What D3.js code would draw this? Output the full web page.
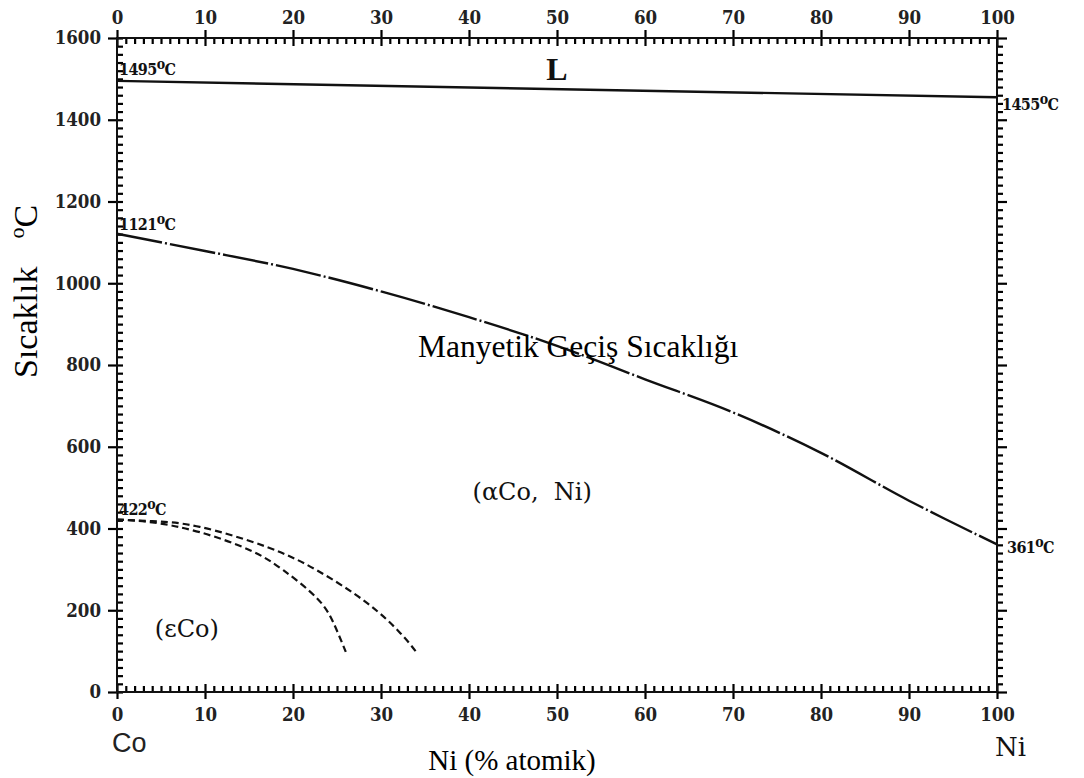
<!DOCTYPE html>
<html>
<head>
<meta charset="utf-8">
<script src="https://cdn.jsdelivr.net/npm/d3@7"></script>
<style>
  html, body { margin: 0; padding: 0; background: #fff; }
  svg { display: block; }
  .tickLbl { font-family: "DejaVu Serif Condensed", "DejaVu Serif", serif; font-stretch: condensed; font-weight: bold; font-size: 18.5px; fill: #222; }
  .tempLbl { font-family: "DejaVu Serif Condensed", "DejaVu Serif", serif; font-stretch: condensed; font-weight: bold; font-size: 16px; letter-spacing: -0.6px; fill: #111; }
  .times { font-family: "Liberation Serif", "Times New Roman", serif; fill: #000; }
  .phase { font-family: "DejaVu Serif", serif; fill: #111; white-space: pre; }
</style>
</head>
<body>
<div id="chart"></div>
<script>
// axis ticks
const niTicks = [0, 10, 20, 30, 40, 50, 60, 70, 80, 90, 100];
const tempTicks = [0, 200, 400, 600, 800, 1000, 1200, 1400, 1600];

// liquidus (L)
const liqNi = [0, 100];
const liqT = [1495, 1455];

// magnetic transition (Manyetik Geçiş Sıcaklığı)
const magNi = [0, 10, 20, 30, 40, 50, 60, 70, 80, 90, 100];
const magT = [1121, 1079, 1035, 980, 917, 847, 765, 684, 585, 468, 361];

// epsilon Co boundaries (dashed)
const epsInNi = [0, 4, 9.4, 15.1, 18.9, 22.7, 24.6, 26];
const epsInT = [422, 415, 391, 347, 298, 230, 169, 98];
const epsOutNi = [0, 4, 9.4, 17, 22.7, 28.4, 32.2, 34];
const epsOutT = [422, 418, 404, 355, 298, 218, 144, 98];

const W = 1084, H = 778;
const m = {left: 117, right: 87, top: 38, bottom: 86};
const w = W - m.left - m.right, h = H - m.top - m.bottom;

const svg = d3.select("#chart").append("svg")
  .attr("width", W).attr("height", H);

const g = svg.append("g").attr("transform", `translate(${m.left},${m.top})`);

const x = d3.scaleLinear().domain([0, 100]).range([0, w]);
const y = d3.scaleLinear().domain([0, 1600]).range([h, 0]);

const minorX = d3.range(0, 101, 1).filter(v => v % 10);
const minorY = d3.range(0, 1601, 20).filter(v => v % 200);
const fmt = d3.format("d");

const styleAxis = (sel) => {
  sel.select(".domain").remove();
  sel.selectAll(".tick line").attr("stroke", "#000").attr("stroke-width", 2.2);
  sel.selectAll(".tick text").attr("class", "tickLbl");
};

// tick labels + major ticks (outside part)
g.append("g").attr("transform", `translate(0,${h})`)
  .call(d3.axisBottom(x).tickValues(niTicks).tickSize(7).tickPadding(9).tickFormat(fmt)).call(styleAxis);
g.append("g")
  .call(d3.axisTop(x).tickValues(niTicks).tickSize(8).tickPadding(6).tickFormat(fmt)).call(styleAxis);
g.append("g")
  .call(d3.axisLeft(y).tickValues(tempTicks).tickSize(9).tickPadding(7).tickFormat(fmt)).call(styleAxis);
g.append("g").attr("transform", `translate(${w},0)`)
  .call(d3.axisRight(y).tickValues(tempTicks).tickSize(10).tickFormat("")).call(styleAxis);

// short ticks along the frame (minor: inside, except right side)
g.append("g").attr("transform", `translate(0,${h})`)
  .call(d3.axisTop(x).tickValues(minorX).tickSize(6).tickFormat("")).call(styleAxis);
g.append("g").attr("transform", `translate(0,${h})`)
  .call(d3.axisTop(x).tickValues(niTicks).tickSize(8).tickFormat("")).call(styleAxis);
g.append("g")
  .call(d3.axisBottom(x).tickValues(minorX).tickSize(6).tickFormat("")).call(styleAxis);
g.append("g")
  .call(d3.axisBottom(x).tickValues(niTicks).tickSize(8).tickFormat("")).call(styleAxis);
g.append("g")
  .call(d3.axisRight(y).tickValues(minorY.concat(tempTicks)).tickSize(6).tickFormat("")).call(styleAxis);
g.append("g").attr("transform", `translate(${w},0)`)
  .call(d3.axisRight(y).tickValues(minorY).tickSize(6).tickFormat("")).call(styleAxis);

// frame
g.append("path")
  .attr("d", `M0,0H${w}V${h}H0Z`)
  .attr("fill", "none").attr("stroke", "#111").attr("stroke-width", 2);

const zip = (a, b) => a.map((v, i) => [v, b[i]]);
const line = d3.line().x(d => x(d[0])).y(d => y(d[1]));
const smooth = d3.line().x(d => x(d[0])).y(d => y(d[1])).curve(d3.curveCatmullRom.alpha(0.5));
const natural = d3.line().x(d => x(d[0])).y(d => y(d[1])).curve(d3.curveNatural);

g.append("path").attr("d", line(zip(liqNi, liqT)))
  .attr("fill", "none").attr("stroke", "#111").attr("stroke-width", 2.4);

g.append("path").attr("d", smooth(zip(magNi, magT)))
  .attr("fill", "none").attr("stroke", "#111").attr("stroke-width", 2.4)
  .attr("stroke-dasharray", "46,3,2,3");

[zip(epsInNi, epsInT), zip(epsOutNi, epsOutT)].forEach(pts => {
  g.append("path").attr("d", natural(pts))
    .attr("fill", "none").attr("stroke", "#111").attr("stroke-width", 2.2)
    .attr("stroke-dasharray", "7,4");
});

// temperature annotations
const tempLabel = (tx, ty, val) => {
  const t = g.append("text").attr("class", "tempLbl").attr("x", tx).attr("y", ty);
  t.append("tspan").text(val);
  t.append("tspan").attr("dy", -6).attr("font-size", 14).text("o");
  t.append("tspan").attr("dy", 6).text("C");
};
tempLabel(x(0) + 2, y(1495) - 6, "1495");
tempLabel(x(0) + 2, y(1121) - 4, "1121");
tempLabel(x(0) + 2, y(422) - 5, "422");
tempLabel(x(100) + 5, y(1455) + 13, "1455");
tempLabel(x(100) + 10, y(361) + 9, "361");

// phase labels
g.append("text")
  .attr("x", x(50)).attr("y", y(1495) - 1).attr("text-anchor", "middle")
  .attr("font-family", "Liberation Serif, serif").attr("font-weight", "bold")
  .attr("font-size", 32).attr("fill", "#111").text("L");
g.append("text").attr("class", "phase")
  .attr("x", x(40.4)).attr("y", y(470)).attr("font-size", 24).text("(αCo,  Ni)");
g.append("text").attr("class", "phase")
  .attr("x", x(4.3)).attr("y", y(135)).attr("font-size", 24).text("(εCo)");
g.append("text").attr("class", "times")
  .attr("x", x(34.2)).attr("y", y(820)).attr("font-size", 31.5)
  .text("Manyetik Geçiş Sıcaklığı");

// axis end labels
g.append("text").attr("x", x(0) - 5).attr("y", h + 60)
  .attr("font-family", "Liberation Sans, Arial, sans-serif").attr("font-size", 27).attr("fill", "#222")
  .text("Co");
g.append("text").attr("class", "phase").attr("x", x(100) - 2).attr("y", h + 64)
  .attr("font-size", 26).text("Ni");

// axis titles
svg.append("text").attr("class", "times")
  .attr("x", m.left + w / 2 - 45).attr("y", 770).attr("text-anchor", "middle")
  .attr("font-size", 29).text("Ni (% atomik)");

const yt = svg.append("text").attr("class", "times")
  .attr("transform", "translate(37,378) rotate(-90)")
  .attr("font-size", 34);
yt.append("tspan").text("Sıcaklık");
yt.append("tspan").attr("dx", 28).attr("dy", -13).attr("font-size", 22).text("o");
yt.append("tspan").attr("dy", 13).text("C");
</script>
</body>
</html>
